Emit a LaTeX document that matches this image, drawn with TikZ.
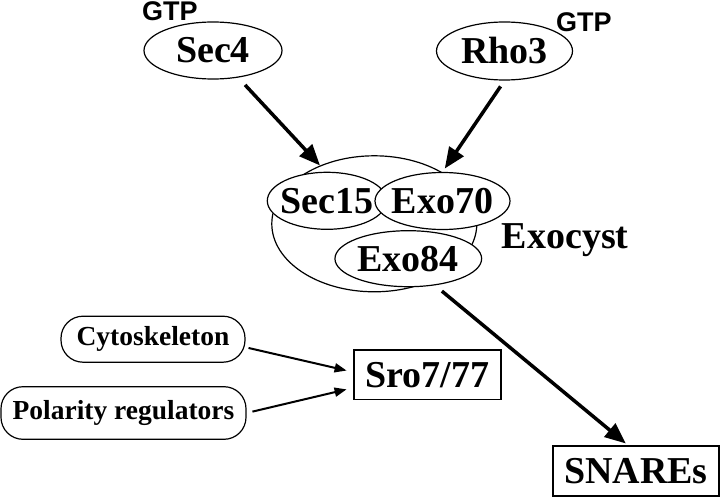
\documentclass[tikz,border=0pt]{standalone}
\usepackage{fontspec}
\setmainfont{Liberation Serif}
\newfontfamily\gtpfont{Liberation Sans}
\usetikzlibrary{arrows.meta,shapes.geometric}
\newcommand{\bigtxt}{\fontsize{38}{40}\selectfont\bfseries}
\newcommand{\midtxt}{\fontsize{27.5}{30}\selectfont\bfseries}
\newcommand{\gtptxt}{\gtpfont\fontsize{27}{29}\selectfont\bfseries}
\begin{document}
\begin{tikzpicture}[x=1pt,y=-1pt,
  ell/.style={ellipse,draw,line width=1.2pt,inner sep=0pt,fill=white},
  boxnode/.style={rectangle,draw,line width=1.2pt,inner sep=0pt,font=\bigtxt},
  pill/.style={rectangle,draw,line width=1.2pt,inner sep=0pt,rounded corners=22pt,font=\midtxt},
  bigarrow/.style={line width=3.5pt,-{Triangle[length=21pt,width=17pt]}},
  smallarrow/.style={line width=2pt,-{Triangle[length=12pt,width=9pt]}},
  gtp/.style={font=\gtptxt,inner sep=0pt,anchor=base west},
  lab/.style={font=\bigtxt,inner sep=0pt}]
\useasboundingbox (0,0) rectangle (720,497);

% top GTPases
\node[ell,minimum width=138pt,minimum height=57pt,label={[lab]center:Sec4}] (sec4) at (213,50.5) {};
\node[ell,minimum width=136pt,minimum height=58pt,label={[lab]center:Rho3}] (rho3) at (504.5,51) {};
\node[gtp] (gtp1) at (142,20.7) {GTP};
\node[gtp] (gtp2) at (556,31.7) {GTP};

% exocyst complex
\node[ellipse,draw,line width=1.2pt,inner sep=0pt,minimum width=205pt,minimum height=136pt] (exo) at (374.3,223.8) {};
\node[ell,minimum width=119.4pt,minimum height=57pt,label={[lab]center:Sec15}] (sec15) at (327,200.8) {};
\node[ell,minimum width=135pt,minimum height=57pt,label={[lab]center:Exo70}] (exo70) at (442.5,201) {};
\node[ell,minimum width=146.7pt,minimum height=56pt,label={[lab]center:Exo84}] (exo84) at (408.3,258.7) {};
\node[lab,anchor=base west] (exolab) at (501.7,248) {Exocyst};

% boxes
\node[pill,minimum width=184pt,minimum height=46pt] (cyto) at (153,339.2) {Cytoskeleton};
\node[pill,minimum width=245pt,minimum height=52.6pt] (pol) at (123.5,413) {Polarity regulators};
\node[boxnode,minimum width=147pt,minimum height=49.3pt] (sro) at (427.5,374.7) {Sro7/77};
\node[boxnode,minimum width=166pt,minimum height=50pt] (snare) at (636,471) {SNAREs};

% arrows
\draw[bigarrow,shorten <=10pt] (sec4) -- (exo);
\draw[bigarrow,shorten <=7pt,shorten >=4pt] (rho3.south) -- (exo70.north);
\draw[bigarrow,shorten <=9pt,shorten >=3pt] (exo84.-45) -- (snare.107);
\draw[smallarrow,shorten <=3pt,shorten >=7pt] (cyto.-5) -- (sro.178);
\draw[smallarrow,shorten <=6pt,shorten >=7pt] (pol.east) -- (sro.190);
\end{tikzpicture}
\end{document}
